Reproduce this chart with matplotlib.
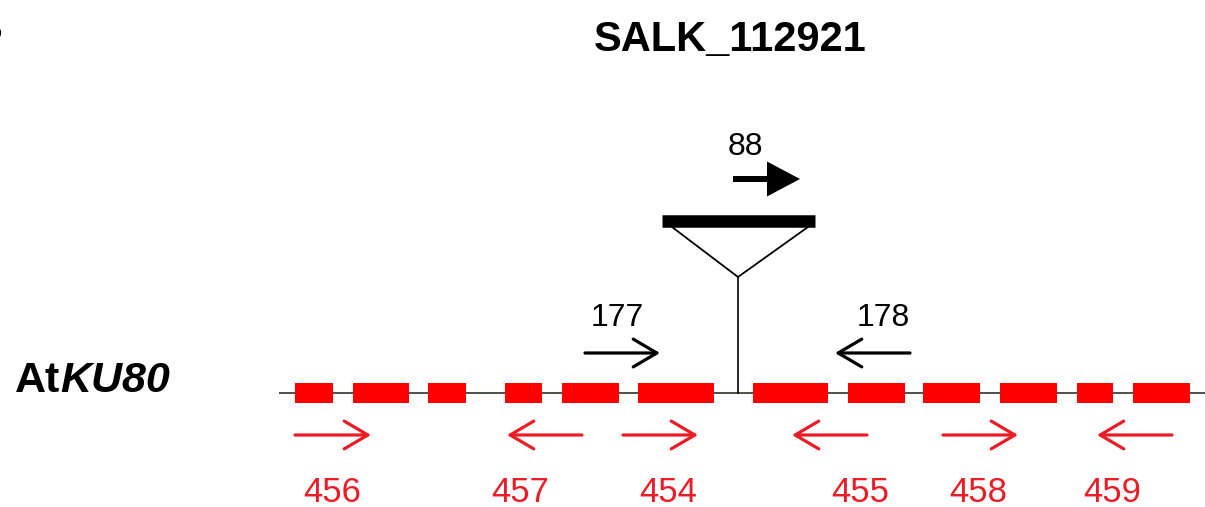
"""
T-DNA insertion map of AtKU80 (SALK_112921) with primer positions.
"""
import matplotlib.pyplot as plt
from matplotlib.patches import Rectangle

# gene model (drawing units = pixels along the gene)
exon_starts = [295, 353, 428, 505, 562, 638, 753, 848, 923, 1000, 1077, 1133]
exon_ends = [333, 409, 466, 542, 619, 714, 828, 905, 980, 1057, 1113, 1190]
gene_start, gene_end = 280, 1205
insertion_site = 738

# gene specific primers (red): tail -> tip
red_names = ["456", "457", "454", "455", "458", "459"]
red_tails = [295, 582, 623, 867, 943, 1172]
red_tips = [371, 507, 698, 792, 1018, 1097]
red_label_x = [332, 520, 668, 860, 978, 1112]

# primers near the insertion (black)
black_names = ["177", "178"]
black_tails = [585, 910]
black_tips = [660, 835]
black_label_x = [617, 883]

# T-DNA left border primer
tdna_name = "88"
tdna_tail, tdna_tip = 733, 800

RED = "#ea1c25"
plt.rcParams["font.family"] = ["Liberation Sans", "DejaVu Sans"]

fig = plt.figure(figsize=(12.05, 5.07), dpi=100)
ax = fig.add_axes([0, 0, 1, 1])
ax.set_xlim(0, 1205)
ax.set_ylim(507, 0)
ax.axis("off")

gene_y = 393

# gene line and exons
ax.plot([gene_start, gene_end], [gene_y, gene_y], color="#4a524a", lw=1.4, zorder=1)
for s, e in zip(exon_starts, exon_ends):
    ax.add_patch(Rectangle((s, gene_y - 10), e - s, 20, color="#ff0000", lw=0, zorder=2))

# insertion: stem, triangle, bar
ax.plot([insertion_site, insertion_site], [277, gene_y], color="black", lw=1.2, zorder=3)
ax.plot([672, insertion_site, 808], [227, 277, 227], color="black", lw=1.3)
ax.plot([662, 815], [221, 221], color="black", lw=9, solid_capstyle="butt")

# T-DNA primer (filled arrow)
ax.arrow(tdna_tail, 179, tdna_tip - tdna_tail, 0, width=6, head_width=35,
         head_length=33, length_includes_head=True, color="black", lw=0)
ax.text(745, 147, tdna_name, ha="center", va="center", fontsize=23)


def open_arrow(tail, tip, y, color):
    ax.annotate("", xy=(tip, y), xytext=(tail, y),
                arrowprops=dict(arrowstyle="->,head_length=1.7,head_width=1.0",
                                mutation_scale=10, lw=2.3, color=color,
                                shrinkA=0, shrinkB=0))


for name, t0, t1, lx in zip(black_names, black_tails, black_tips, black_label_x):
    open_arrow(t0, t1, 353, "black")
    ax.text(lx, 318, name, ha="center", va="center", fontsize=23)

for name, t0, t1, lx in zip(red_names, red_tails, red_tips, red_label_x):
    open_arrow(t0, t1, 435, RED)
    ax.text(lx, 492, name, ha="center", va="center", fontsize=25, color=RED)

# titles
ax.text(730, 40, "SALK_112921", ha="center", va="center", fontsize=30, fontweight="bold")
at = ax.text(15, 381, "At", ha="left", va="center", fontsize=31, fontweight="bold")
ax.annotate("KU80", xy=(1, 0.5), xycoords=at, ha="left", va="center",
            fontsize=31, fontweight="bold", fontstyle="italic")

# panel letter, cut by the left edge as in the source figure
ax.text(2, 30, "B", ha="right", va="center", fontsize=30, fontweight="bold")

fig.savefig("out.png", dpi=100)
